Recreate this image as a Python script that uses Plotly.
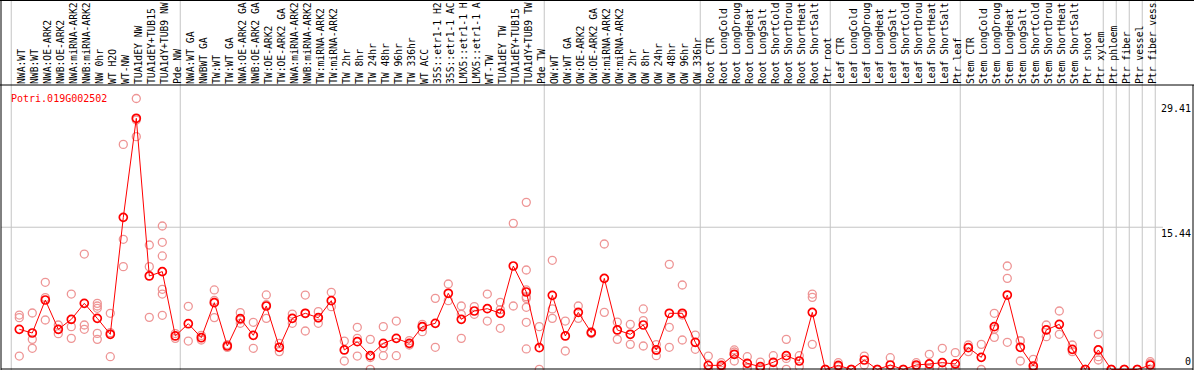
import plotly.graph_objects as go

gene = "Potri.019G002502"

# labels as visible in the reference (clipped at 14 characters)
categories = [
    "NWA:WT", "NWB:WT", "NWA:OE-ARK2", "NWB:OE-ARK2", "NWA:miRNA-ARK2", "NWB:miRNA-ARK2",
    "NW 0hr", "WT H2O", "WT-NW", "TUA1dEY NW", "TUA1dEY+TUB15", "TUA1dY+TUB9 NW", "Pde NW",
    "NWA:WT GA", "NWBWT GA", "TW:WT", "TW:WT GA", "NWA:OE-ARK2 GA", "NWB:OE-ARK2 GA",
    "TW:OE-ARK2", "TW:OE-ARK2 GA", "NWA:miRNA-ARK2", "NWB:miRNA-ARK2", "TW:miRNA-ARK2",
    "TW:miRNA-ARK2", "TW 2hr", "TW 8hr", "TW 24hr", "TW 48hr", "TW 96hr", "TW 336hr",
    "WT ACC", "35S::etr1-1 H2", "35S::etr1-1 AC", "LMX5::etr1-1 H", "LMX5::etr1-1 A",
    "WT-TW", "TUA1dEY TW", "TUA1dEY+TUB15", "TUA1dY+TUB9 TW", "Pde TW",
    "OW:WT", "OW:WT GA", "OW:OE-ARK2", "OW:OE-ARK2 GA", "OW:miRNA-ARK2", "OW:miRNA-ARK2",
    "OW 2hr", "OW 8hr", "OW 24hr", "OW 48hr", "OW 96hr", "OW 336hr",
    "Root CTR", "Root LongCold", "Root LongDroug", "Root LongHeat", "Root LongSalt",
    "Root ShortCold", "Root ShortDrou", "Root ShortHeat", "Root ShortSalt", "Ptr root",
    "Leaf CTR", "Leaf LongCold", "Leaf LongDroug", "Leaf LongHeat", "Leaf LongSalt",
    "Leaf ShortCold", "Leaf ShortDrou", "Leaf ShortHeat", "Leaf ShortSalt", "Ptr leaf",
    "Stem CTR", "Stem LongCold", "Stem LongDroug", "Stem LongHeat", "Stem LongSalt",
    "Stem ShortCold", "Stem ShortDrou", "Stem ShortHeat", "Stem ShortSalt",
    "Ptr shoot", "Ptr xylem", "Ptr phloem", "Ptr fiber", "Ptr vessel", "Ptr fiber vess",
]

means = [
    4.36, 3.96, 7.54, 4.36, 5.44, 7.18, 5.55, 3.82, 16.51, 27.26,
    10.15, 10.62, 3.64, 4.97, 3.45, 7.25, 2.55, 5.52, 3.71, 6.89,
    2.41, 5.55, 6.10, 5.62, 7.47, 2.12, 3.02, 1.50, 2.84, 3.38,
    2.84, 4.65, 5.01, 8.27, 5.44, 6.35, 6.60, 6.10, 11.23, 8.41,
    2.37, 8.05, 3.64, 6.20, 4.00, 9.89, 4.29, 3.82, 4.83, 2.12,
    6.10, 6.10, 2.95, 0.45, 0.45, 1.65, 0.67, 0.31, 0.78, 1.50,
    0.92, 6.20, 0.0, 0.45, 0.0, 1.03, 0.0, 0.49, 0.0, 0.49,
    0.60, 0.74, 0.60, 2.37, 1.32, 4.65, 8.08, 2.41, 0.38, 4.29,
    4.90, 2.19, 0.0, 2.12, 0.0, 0.0, 0.0, 0.49,
]

replicates = [
    [5.91, 5.62, 1.46], [6.13, 3.27, 2.30], [9.46, 7.80, 5.37], [4.83, 4.36, 3.89],
    [8.19, 4.65, 3.38], [12.53, 4.83, 4.36], [7.18, 6.89, 6.64, 3.92, 3.27], [6.10, 4.00, 1.39],
    [24.43, 14.13, 11.16], [29.41, 25.27, 27.07], [13.51, 11.16, 5.66],
    [15.57, 13.80, 12.32, 8.70, 8.19, 5.88], [3.38, 3.90], [6.86, 3.09], [3.20, 3.70],
    [8.63, 7.49, 5.63], [2.40, 2.70], [6.17, 5.40, 5.01], [5.12, 2.30], [8.09, 7.03, 5.55],
    [2.84, 1.94], [6.02, 5.01], [8.08, 6.10, 4.18], [6.28, 5.60, 5.01], [8.38, 6.82],
    [3.09, 0.92], [4.58, 3.38, 1.46], [3.27, 1.30, 0.02], [4.65, 2.37, 1.50], [5.26, 1.50],
    [3.13, 2.66], [4.90, 4.65, 4.11], [7.72, 2.41], [9.28, 7.47], [6.89, 5.99, 3.38],
    [6.82, 5.99], [8.19, 5.26], [7.29, 6.50, 4.47], [15.86, 6.89],
    [18.14, 10.80, 8.63, 7.90, 7.72, 6.75, 5.12, 2.23], [4.65, 0.02], [11.85, 6.57, 5.55],
    [5.26, 2.01], [6.89, 5.55], [4.10, 3.90], [13.62, 6.20], [5.15, 3.27], [4.90, 2.73],
    [6.57, 5.30, 2.55], [2.70, 2.10, 1.50], [11.41, 4.58, 2.41], [9.17, 5.91, 3.20],
    [3.74, 2.19], [1.46, 0.0, 0.0], [0.74, 0.40, 0.20], [2.12, 1.90, 0.92],
    [1.39, 0.24, 0.13], [0.80, 0.10, 0.05], [1.50, 0.05], [3.27, 1.20, 0.02], [1.50, 0.31],
    [8.19, 7.83, 2.73], [0.0, 0.0], [0.74, 0.31], [0.0, 0.0], [1.46, 0.49], [0.0, 0.0],
    [1.28, 0.0], [0.0, 0.0], [0.74, 0.31], [1.65, 0.10, 0.05], [2.30, 0.0, 0.0],
    [1.83, 0.0, 0.0], [2.66, 1.94], [2.73, 0.0], [6.10, 4.39, 3.49], [11.23, 9.89, 2.95],
    [3.13, 3.10, 0.92], [1.10, 0.05, 0.0], [4.83, 3.56], [6.35, 3.82], [2.66, 1.94],
    [0.0, 0.0], [3.82, 1.39, 1.03], [0.0, 0.0], [0.0, 0.0], [0.0, 0.0], [0.85, 0.67, 0.0],
]

# last category index of each group (group separators)
group_ends = [0, 13, 41, 53, 63, 73, 84, 85, 86, 87, 88]
y_tick_vals = [29.41, 15.44, 0]
y_gridline = 15.44

W, H = 1194, 370
ML, MR, MT, MB = 1, 1, 85, 0
PW, PH = W - ML - MR, H - MT - MB

x_pos = list(range(1, len(categories) + 1))
rx, ry = [], []
for xi, reps in zip(x_pos, replicates):
    rx += [xi] * len(reps)
    ry += reps

mono = "DejaVu Sans Mono"

fig = go.Figure()
fig.add_trace(go.Scatter(
    x=rx, y=ry, mode="markers", cliponaxis=False, hoverinfo="skip",
    marker=dict(symbol="circle-open", size=8, color="#ee9595", line=dict(width=1.3)),
))
fig.add_trace(go.Scatter(
    x=x_pos, y=means, mode="lines+markers", cliponaxis=False,
    line=dict(color="#ff0000", width=1),
    marker=dict(symbol="circle-open", size=8, color="#ff0000", line=dict(width=1.7)),
))

shapes = []
top_paper = 1 + MT / PH
for g in group_ends:
    shapes.append(dict(type="line", xref="x", yref="paper", x0=g + 0.38, x1=g + 0.38,
                       y0=0, y1=top_paper, line=dict(color="#c4c4c4", width=1), layer="below"))
shapes.append(dict(type="line", xref="paper", yref="y", x0=0, x1=(1163 - ML) / PW,
                   y0=y_gridline, y1=y_gridline, line=dict(color="#c4c4c4", width=1), layer="below"))
black = dict(color="black", width=1)
shapes += [
    dict(type="line", xref="paper", yref="paper", x0=-ML / PW, x1=1 + MR / PW, y0=1, y1=1, line=black),
    dict(type="line", xref="paper", yref="paper", x0=-ML / PW, x1=1 + MR / PW, y0=top_paper - 0.5 / PH, y1=top_paper - 0.5 / PH, line=black),
    dict(type="line", xref="paper", yref="paper", x0=0, x1=1, y0=1.0 / PH, y1=1.0 / PH, line=black),
    dict(type="line", xref="paper", yref="paper", x0=0, x1=0, y0=0, y1=top_paper, line=black),
    dict(type="line", xref="paper", yref="paper", x0=1, x1=1, y0=0, y1=1, line=black),
]

annotations = [dict(text=gene, xref="paper", yref="paper", x=(9 - ML) / PW, y=1 - 6 / PH,
                    xanchor="left", yanchor="top", showarrow=False,
                    font=dict(family=mono, size=10, color="red"))]
for v in y_tick_vals:
    annotations.append(dict(text=f"{v:g}" if v == 0 else f"{v:.2f}", xref="paper", yref="y",
                            x=1, y=v, xanchor="right", yanchor="bottom" if v == 0 else "top",
                            yshift=1 if v == 0 else (-3 if v == max(y_tick_vals) else 1),
                            showarrow=False, font=dict(family=mono, size=10, color="black")))

px_per_cat = 13.0
x0 = 1 - (19.3 - ML) / px_per_cat
fig.update_layout(
    width=W, height=H, margin=dict(l=ML, r=MR, t=MT, b=MB, autoexpand=False),
    paper_bgcolor="white", plot_bgcolor="white", showlegend=False,
    shapes=shapes, annotations=annotations,
    xaxis=dict(range=[x0, x0 + PW / px_per_cat], tickmode="array", tickvals=x_pos,
               ticktext=categories, side="top", tickangle=-90, ticks="", automargin=False,
               ticklabelshift=3,
               tickfont=dict(family=mono, size=9.7, color="black"),
               showgrid=False, zeroline=False, showline=False, fixedrange=True),
    yaxis=dict(range=[-0.5 / 9.215, (PH - 0.5) / 9.215], showgrid=False, zeroline=False,
               automargin=False, showticklabels=False, showline=False, fixedrange=True),
)
fig.write_html("out.html", config={"displayModeBar": False},
               post_script="document.body.style.margin='0';document.body.style.overflow='hidden';")
